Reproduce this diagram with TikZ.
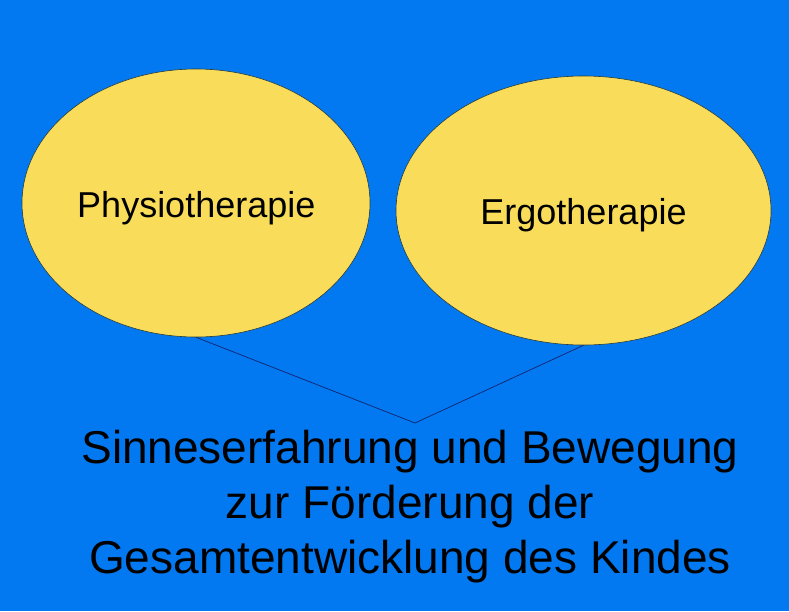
\documentclass[tikz,border=0pt]{standalone}
\usepackage{fontspec}
\setmainfont{Liberation Sans}
\usetikzlibrary{shapes.geometric}
\definecolor{bgblue}{RGB}{2,121,240}
\definecolor{blobyellow}{RGB}{249,221,90}
\definecolor{edgedark}{RGB}{40,60,60}
\definecolor{linenavy}{RGB}{20,35,110}
\tikzset{
  blob/.style={ellipse, draw=edgedark, line width=0.6pt, fill=blobyellow, inner sep=0pt},
  blobtext/.style={anchor=base, inner sep=0pt, font=\fontsize{36}{40}\selectfont},
  bigtext/.style={anchor=base, inner sep=0pt, align=center, font=\fontsize{46}{55}\selectfont},
  connector/.style={draw=linenavy, line width=0.7pt}
}
\begin{document}
\begin{tikzpicture}[x=1pt,y=-1pt]
  \fill[bgblue] (0,0) rectangle (789,611);
  \useasboundingbox (0,0) rectangle (789,611);
  \node[blob, minimum width=348pt, minimum height=268pt] (L) at (196,203) {};
  \node[blob, minimum width=375pt, minimum height=269pt] (R) at (583.5,210.5) {};
  \node[blobtext] (Ltext) at (196.3,217.3) {Physiotherapie};
  \node[blobtext] (Rtext) at (583.5,224) {Ergotherapie};
  \coordinate (apex) at (415,423);
  \draw[connector] (L.south) -- (apex) -- (R.south);
  \node[bigtext] (goal) at (410,573.3) {Sinneserfahrung und Bewegung\\zur Förderung der\\Gesamtentwicklung des Kindes};
\end{tikzpicture}
\end{document}
